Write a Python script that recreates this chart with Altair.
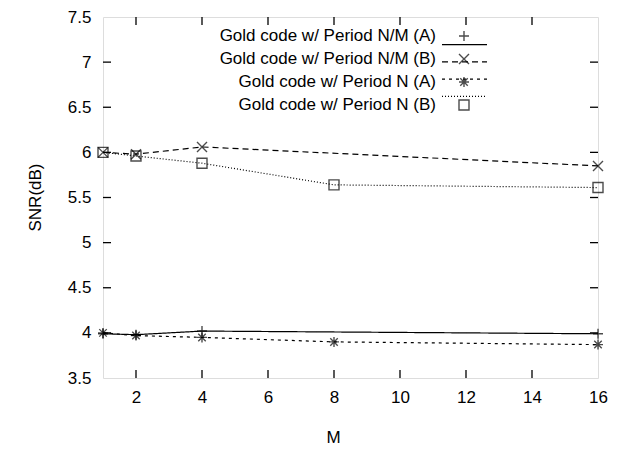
import altair as alt
import pandas as pd

# ---- data ----
series_names = [
    "Gold code w/ Period N/M (A)",
    "Gold code w/ Period N/M (B)",
    "Gold code w/ Period N (A)",
    "Gold code w/ Period N (B)",
]
m_nm = [1, 2, 4, 16]
m_n = [1, 2, 4, 8, 16]
snr_nm_a = [3.99, 3.98, 4.02, 3.99]
snr_nm_b = [6.00, 5.98, 6.06, 5.85]
snr_n_a = [4.00, 3.97, 3.95, 3.90, 3.87]
snr_n_b = [6.00, 5.96, 5.88, 5.64, 5.61]
x_ticks = [2, 4, 6, 8, 10, 12, 14, 16]
y_ticks = [3.5, 4, 4.5, 5, 5.5, 6, 6.5, 7, 7.5]

rows = []
for name, ms, vals in [
    (series_names[0], m_nm, snr_nm_a),
    (series_names[1], m_nm, snr_nm_b),
    (series_names[2], m_n, snr_n_a),
    (series_names[3], m_n, snr_n_b),
]:
    for m, v in zip(ms, vals):
        rows.append({"M": m, "SNR": v, "series": name})
df = pd.DataFrame(rows)
legend_df = pd.DataFrame({"series": series_names})
yt_df = pd.DataFrame({"v": y_ticks[1:-1]})
xt_df = pd.DataFrame({"v": x_ticks[:-1]})

FONT = "Liberation Sans"
FS = 17

xscale = alt.Scale(domain=[1, 16], nice=False, zero=False)
yscale = alt.Scale(domain=[3.5, 7.5], nice=False, zero=False)
dash_scale = alt.Scale(domain=series_names, range=[[1, 0], [6, 4], [3, 4], [1, 2]])
shape_scale = alt.Scale(
    domain=series_names,
    range=[
        "M-1,0L1,0M0,-1L0,1",
        "M-1,-1L1,1M-1,1L1,-1",
        "M-1,0L1,0M0,-1L0,1M-0.75,-0.75L0.75,0.75M-0.75,0.75L0.75,-0.75",
        "square",
    ],
)

x_axis = alt.Axis(
    values=x_ticks, ticks=False, domain=False, grid=False, labelPadding=11,
    labelFlush=False, labelOverlap=False,
    labelFont=FONT, labelFontSize=FS, labelColor="black",
    title="M", titleFont=FONT, titleFontSize=FS, titleFontWeight="normal",
    titleColor="black", titleX=230, titleY=59, titleBaseline="middle",
)
y_axis = alt.Axis(
    values=y_ticks, format="~g", ticks=False, domain=False, grid=False,
    labelPadding=12, labelFlush=False, labelOverlap=False,
    labelFont=FONT, labelFontSize=FS, labelColor="black",
    title="SNR(dB)", titleFont=FONT, titleFontSize=FS, titleFontWeight="normal",
    titleColor="black", titleAngle=270, titleX=-68, titleY=180,
    titleBaseline="middle", titleAlign="center",
)

base = alt.Chart(df)
lines = base.mark_line(color="black", strokeWidth=1.2).encode(
    x=alt.X("M:Q", scale=xscale, axis=x_axis),
    y=alt.Y("SNR:Q", scale=yscale, axis=y_axis),
    strokeDash=alt.StrokeDash("series:N", scale=dash_scale, legend=None),
    detail="series:N",
)
points = base.mark_point(filled=False, color="black", size=100, strokeWidth=1.4).encode(
    x=alt.X("M:Q", scale=xscale),
    y=alt.Y("SNR:Q", scale=yscale, axis=None),
    shape=alt.Shape("series:N", scale=shape_scale, legend=None),
)

# inward tick marks (gnuplot style), on all four sides
rk = dict(color="black", strokeWidth=1.3)
left_ticks = alt.Chart(yt_df).mark_rule(x2Offset=8, **rk).encode(
    x=alt.X("lo:Q", scale=xscale), x2="lo:Q",
    y=alt.Y("v:Q", scale=yscale, axis=None),
).transform_calculate(lo="1")
right_ticks = alt.Chart(yt_df).mark_rule(x2Offset=-8, **rk).encode(
    x=alt.X("hi:Q", scale=xscale), x2="hi:Q",
    y=alt.Y("v:Q", scale=yscale, axis=None),
).transform_calculate(hi="16")
bottom_ticks = alt.Chart(xt_df).mark_rule(y2Offset=-8, **rk).encode(
    x=alt.X("v:Q", scale=xscale),
    y=alt.Y("lo:Q", scale=yscale, axis=None), y2="lo:Q",
).transform_calculate(lo="3.5")
top_ticks = alt.Chart(xt_df).mark_rule(y2Offset=8, **rk).encode(
    x=alt.X("v:Q", scale=xscale),
    y=alt.Y("hi:Q", scale=yscale, axis=None), y2="hi:Q",
).transform_calculate(hi="7.5")

# key inside the plot, text left of the sample (gnuplot style)
leg_y = alt.Y("series:N", scale=alt.Scale(domain=series_names, range=[19, 88], padding=0), axis=None)
leg_text = alt.Chart(legend_df).mark_text(
    align="right", baseline="middle", font=FONT, fontSize=FS, color="black"
).encode(x=alt.value(333), y=leg_y, text="series:N")
leg_line = alt.Chart(legend_df).mark_rule(color="black", strokeWidth=1.2).encode(
    x=alt.value(339), x2=alt.value(384), y=leg_y,
    strokeDash=alt.StrokeDash("series:N", scale=dash_scale, legend=None),
)
leg_pts = alt.Chart(legend_df).mark_point(filled=False, color="black", size=100, strokeWidth=1.4).encode(
    x=alt.value(361), y=leg_y,
    shape=alt.Shape("series:N", scale=shape_scale, legend=None),
)

chart = alt.layer(
    lines, points, left_ticks, right_ticks, bottom_ticks, top_ticks,
    leg_text, leg_line, leg_pts,
).resolve_scale(y="independent").properties(
    width=495, height=361,
    autosize=alt.AutoSizeParams(type="none"),
    padding={"left": 103, "top": 17, "right": 27, "bottom": 80},
).configure_view(stroke="black", strokeWidth=1.6).configure(background="white")

chart.save("out.html", embed_options={"renderer": "svg", "actions": False})
